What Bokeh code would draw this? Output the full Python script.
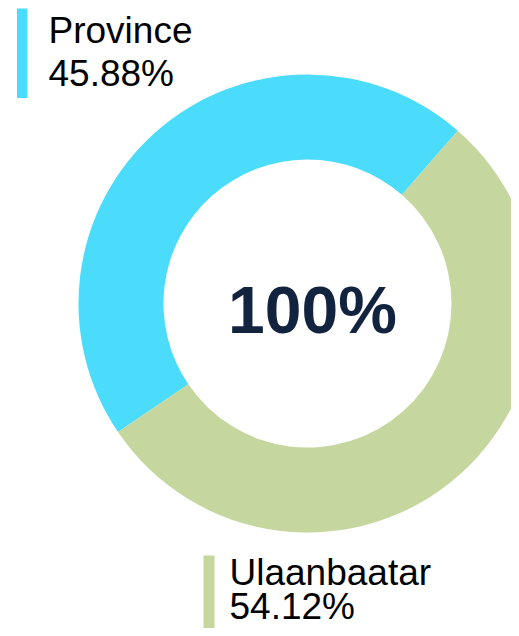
import math
from bokeh.plotting import figure
from bokeh.models import Range1d, ColumnDataSource
from bokeh.core.properties import value
from bokeh.embed import file_html
from bokeh.resources import INLINE

# ---- data ----
categories = ["Province", "Ulaanbaatar"]
shares = [45.88, 54.12]
colors = ["#4ADCFA", "#C5D79E"]
center_label = "100%"

# ---- layout (picture pixel coordinates, y pointing down -> negated) ----
W, H = 511, 628
p = figure(width=W, height=H, output_backend="svg", toolbar_location=None,
           x_range=Range1d(0, W), y_range=Range1d(-H, 0),
           min_border=0, min_border_left=0, min_border_right=0,
           min_border_top=0, min_border_bottom=0)
p.axis.visible = False
p.grid.visible = False
p.outline_line_color = None
p.background_fill_color = "white"
p.border_fill_color = "white"

cx, cy = 307, -303
r_in, r_out = 144, 229
start_deg = 49.0

starts, ends = [], []
acc = start_deg
for s in shares:
    starts.append(math.radians(acc))
    acc += s / sum(shares) * 360.0
    ends.append(math.radians(acc))

src = ColumnDataSource(dict(cat=categories, share=shares, color=colors,
                            start=starts, end=ends))
p.annular_wedge(x=cx, y=cy, inner_radius=r_in, outer_radius=r_out,
                start_angle="start", end_angle="end", fill_color="color",
                line_color=None, source=src)

# center label
p.text(x=[cx + 5], y=[cy - 6], text=[center_label], text_align="center",
       text_baseline="middle", text_font=value("Liberation Sans"),
       text_font_style="bold", text_font_size="66px", text_color="#12233F")

# legend-like labels with color bars
label_pos = [(16.5, 27, 8, 97.5, 48, 29.5, 43.3), (203, 214, 555, 640, 229, 572, 34)]
for cat, sh, col, (l, r, t, b, tx, ty, dy) in zip(categories, shares, colors, label_pos):
    p.quad(left=[l], right=[r], top=[-t], bottom=[-b], fill_color=col, line_color=None)
    p.text(x=[tx, tx], y=[-ty, -(ty + dy)], text=[cat, f"{sh:.2f}%"],
           text_align="left", text_baseline="alphabetic",
           text_font=value("Liberation Sans"), text_font_size="37px",
           text_color="black")

open("out.html", "w").write(file_html(p, INLINE))
